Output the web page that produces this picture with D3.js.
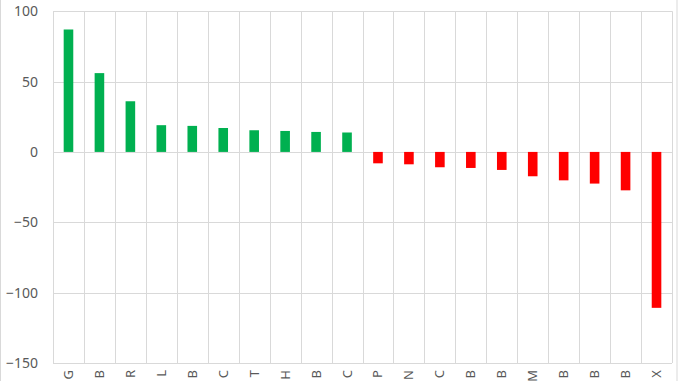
<!DOCTYPE html>
<html><head><meta charset="utf-8">
<script src="https://cdn.jsdelivr.net/npm/d3@7"></script>
<style>html,body{margin:0;padding:0;background:#fff;overflow:hidden}</style>
</head><body>
<svg id="c" width="678" height="381"></svg>
<script>
const categories = ["G","B","R","L","B","C","T","H","B","C","P","N","C","B","B","M","B","B","B","X"];
const values = [87, 56, 36, 19, 18.5, 17, 15.4, 14.9, 14.2, 13.8, -8.1, -8.8, -10.9, -11.4, -12.8, -17.3, -20.2, -22.5, -27.3, -110.8];
const yTicks = [100, 50, 0, -50, -100, -150];

const W = 678, H = 381;
const svg = d3.select("#c");
const x = d3.scaleBand().domain(d3.range(categories.length)).range([53, 672]).padding(0);
const y = d3.scaleLinear().domain([-150, 100]).range([363, 11.2]);
const font = "'Noto Sans', 'Open Sans', sans-serif";

// chart border
svg.append("rect").attr("x", 0.5).attr("y", -5).attr("width", W - 1.5).attr("height", H + 10)
  .attr("fill", "none").attr("stroke", "#d9d9d9");

// horizontal gridlines
svg.append("g").selectAll("line").data(yTicks).join("line")
  .attr("x1", 53).attr("x2", 672)
  .attr("y1", d => Math.round(y(d)) + 0.5).attr("y2", d => Math.round(y(d)) + 0.5)
  .attr("stroke", "#d9d9d9").attr("stroke-width", 1);

// vertical gridlines at category boundaries
const bounds = d3.range(categories.length + 1).map(i => i < categories.length ? x(i) : x.range()[1]);
svg.append("g").selectAll("line").data(bounds).join("line")
  .attr("x1", d => Math.round(d) + 0.5).attr("x2", d => Math.round(d) + 0.5)
  .attr("y1", y(100)).attr("y2", y(-150))
  .attr("stroke", "#d9d9d9").attr("stroke-width", 1);

// y axis labels
const yAxis = d3.axisLeft(y).tickValues(yTicks).tickSize(0).tickPadding(0);
const ya = svg.append("g").attr("transform", "translate(38,0)").call(yAxis);
ya.select(".domain").remove();
ya.selectAll("text").attr("fill", "#595959").style("font-family", font).style("font-size", "14px");

// bars
const bw = x.bandwidth() * 0.31;
svg.append("g").selectAll("rect").data(values).join("rect")
  .attr("x", (d, i) => x(i) + x.bandwidth() / 2 - bw / 2)
  .attr("width", bw)
  .attr("y", d => d >= 0 ? y(d) : y(0))
  .attr("height", d => Math.abs(y(d) - y(0)))
  .attr("fill", d => d >= 0 ? "#00B050" : "#FF0000");

// x labels (rotated)
svg.append("g").selectAll("text").data(categories).join("text")
  .attr("transform", (d, i) => `translate(${x(i) + x.bandwidth() / 2 + 4.5},370) rotate(-90)`)
  .attr("text-anchor", "end")
  .attr("fill", "#595959").style("font-family", font).style("font-size", "13px")
  .text(d => d);
</script>
</body></html>
